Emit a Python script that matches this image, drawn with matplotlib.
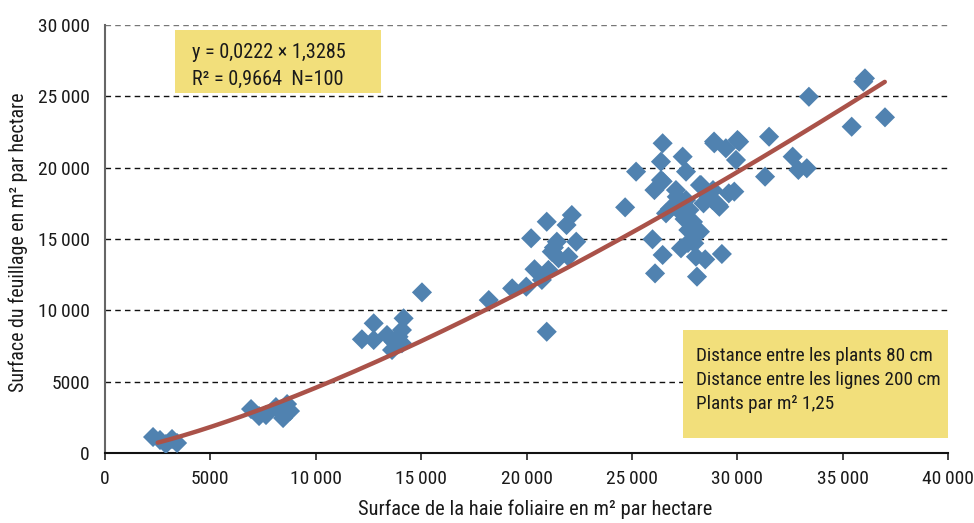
import numpy as np
import matplotlib.pyplot as plt
from matplotlib import font_manager
from matplotlib.patches import Rectangle
from matplotlib.ticker import FuncFormatter

installed = {f.name for f in font_manager.fontManager.ttflist}
narrow = [n for n in ['Liberation Sans Narrow', 'Roboto Condensed', 'Open Sans Condensed', 'Roboto']
          if n in installed]
plt.rcParams['font.family'] = narrow[:1] + ['DejaVu Sans']

# surface de la haie foliaire (m2/ha)
haie = [2280, 2610, 2890, 3180, 3420,
        6930, 7310, 7640, 8110, 8450, 8640, 8780, 8490,
        12190, 12750, 12750, 13380, 13620, 13700, 14170, 14090, 14090, 13930,
        15040, 18210, 19320, 19990, 20960, 20220, 20380, 20730, 20960, 21040,
        21200, 21440, 21520, 21990, 21900, 22150, 22360, 21300,
        24680, 25200, 25980, 26100, 26070, 26380, 26460, 26380, 26460, 27330,
        27410, 27570, 27090, 26620, 27170, 27570, 27730, 27880, 28120, 27960,
        28040, 28090, 28480, 28280, 28830, 29150, 28910, 29460, 30090, 29940,
        29860, 29270, 26460, 28900, 30010, 31510, 31320, 32630, 32900, 33300,
        33400, 35430, 36060, 35980, 37010, 28230, 28850, 29100, 27130,
        27680, 28230, 27660, 27500, 27900, 28600, 26800, 27300, 29600, 28400]
# surface du feuillage (m2/ha)
feuillage = [1120, 910, 630, 980, 700,
             3080, 2590, 2660, 3220, 2450, 3430, 2940, 3010,
             7970, 9090, 7920, 8270, 7220, 7800, 9440, 8620, 7690, 8150,
             11260, 10720, 11540, 11660, 8500, 15050, 12880, 12130, 16210, 12830,
             14110, 14810, 13650, 13760, 15980, 16680, 14810, 14400,
             17220, 19720, 14980, 12590, 18430, 19130, 21710, 20420, 13880, 14350,
             20770, 19720, 18430, 16800, 17260, 17730, 17030, 15860, 15400, 14700,
             13760, 12360, 13570, 18780, 17730, 17260, 21710, 21360, 21820, 20540,
             18320, 13950, 19040, 21830, 21940, 22170, 19370, 20770, 19840, 19960,
             24970, 22870, 26260, 26030, 23530, 18780, 18430, 17380, 17960,
             15630, 15510, 14720, 16400, 16200, 18000, 17100, 16900, 18200, 17500]

coef_a = 0.0222
coef_b = 1.3285

W, H = 974, 523
fig = plt.figure(figsize=(W / 100, H / 100), dpi=100)
ax = fig.add_axes([105 / W, 1 - 453 / H, 843 / W, 428 / H])

xs = np.linspace(2500, 37000, 200)
ax.scatter(haie, feuillage, marker='D', s=105, color='#5082B0', edgecolors='none', zorder=3)
ax.plot(xs, coef_a * xs ** coef_b, color='#AA5249', lw=3.2, zorder=4, solid_capstyle='round')

ax.set_xlim(0, 40000)
ax.set_ylim(0, 30000)
ax.set_xticks(np.arange(0, 40001, 5000))
ax.set_yticks(np.arange(0, 30001, 5000))

def fmt(v, pos):
    v = int(v)
    if v >= 10000:
        return f'{v // 1000}\u2009{v % 1000:03d}'
    return str(v)

ax.xaxis.set_major_formatter(FuncFormatter(fmt))
ax.yaxis.set_major_formatter(FuncFormatter(fmt))
ax.tick_params(labelsize=14, length=5, width=1.2, color='#222222', labelcolor='#1a1a1a')
ax.tick_params(axis='y', length=5, color='none', pad=6)
ax.tick_params(axis='x', pad=7)

ax.yaxis.grid(True, linestyle=(0, (4, 3)), color='#111111', lw=1.0)
ax.set_axisbelow(True)
ax.get_ygridlines()[-1].set_color('#777777')
for s in ['top', 'right']:
    ax.spines[s].set_visible(False)
ax.spines['left'].set_color('#666666')
ax.spines['left'].set_linewidth(1.5)
ax.spines['bottom'].set_color('#111111')
ax.spines['bottom'].set_linewidth(1.5)

fig.text(535 / W, 1 - 509 / H, 'Surface de la haie foliaire en m² par hectare', fontsize=14.8,
         ha='center', va='center', color='#1a1a1a')
fig.text(18 / W, 1 - 242 / H, 'Surface du feuillage en m² par hectare', fontsize=14.3,
         ha='center', va='center', rotation=90, color='#1a1a1a')

yellow = '#F2DF7B'
fig.patches.append(Rectangle((175 / W, 1 - 93 / H), 206 / W, 63 / H, transform=fig.transFigure,
                             fc=yellow, ec='none', zorder=5))
fig.text(192 / W, 1 - 52 / H, 'y = 0,0222 × 1,3285', fontsize=14.6, va='center', ha='left',
         color='#1a1a1a', zorder=6)
fig.text(192 / W, 1 - 79 / H, 'R² = 0,9664  N=100', fontsize=14.6, va='center', ha='left',
         color='#1a1a1a', zorder=6)

fig.patches.append(Rectangle((683 / W, 1 - 438 / H), 265 / W, 108 / H, transform=fig.transFigure,
                             fc=yellow, ec='none', zorder=5))
for i, line in enumerate(['Distance entre les plants 80 cm',
                          'Distance entre les lignes 200 cm',
                          'Plants par m² 1,25']):
    fig.text(696 / W, 1 - (356 + 24 * i) / H, line, fontsize=13.8, va='center', ha='left',
             color='#1a1a1a', zorder=6)

fig.savefig('out.png', dpi=100)
